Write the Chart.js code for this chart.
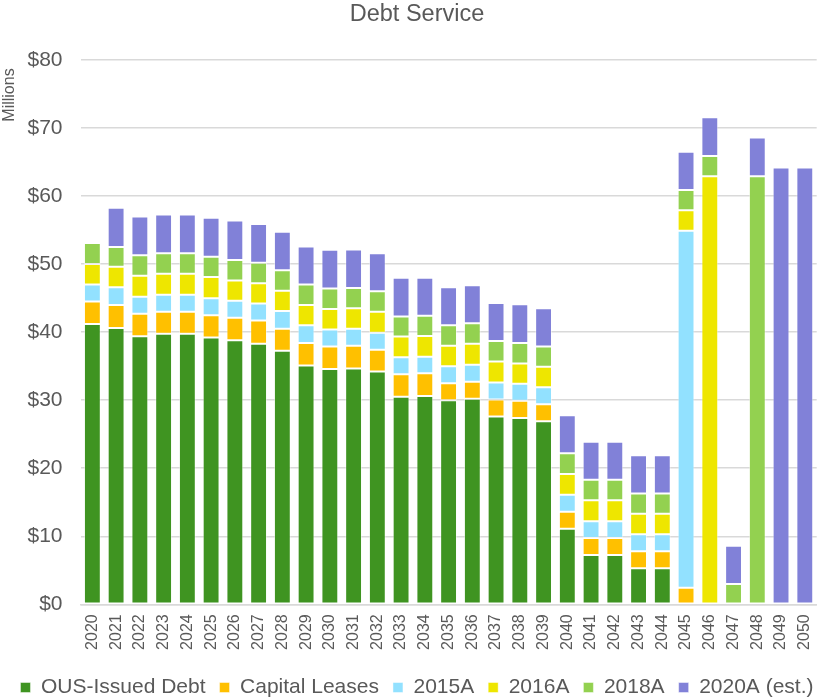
<!DOCTYPE html>
<html>
<head>
<meta charset="utf-8">
<script src="https://cdn.jsdelivr.net/npm/chart.js@4"></script>
<style>
html,body{margin:0;padding:0;background:#fff;overflow:hidden;width:831px;height:698px;}
#wrap{position:absolute;left:0;top:0;width:834px;height:708px;}
</style>
</head>
<body>
<div id="wrap"><canvas id="c" width="834" height="708" style="width:834px;height:708px"></canvas></div>
<script>
const years = ['2020','2021','2022','2023','2024','2025','2026','2027','2028','2029','2030','2031','2032','2033','2034','2035','2036','2037','2038','2039','2040','2041','2042','2043','2044','2045','2046','2047','2048','2049','2050'];
const ousDebt       = [41.2,40.6,39.4,39.75,39.75,39.2,38.8,38.3,37.25,35.1,34.6,34.65,34.2,30.5,30.6,30.0,30.2,27.6,27.4,26.9,11.1,7.25,7.25,5.3,5.3,0,0,0,0,0,0];
const capitalLeases = [3.3,3.4,3.3,3.25,3.25,3.3,3.3,3.4,3.25,3.3,3.3,3.35,3.2,3.3,3.35,2.5,2.5,2.5,2.5,2.5,2.5,2.5,2.5,2.5,2.5,2.45,0,0,0,0,0];
const s2015A        = [2.5,2.6,2.5,2.5,2.5,2.5,2.5,2.5,2.6,2.6,2.5,2.5,2.5,2.5,2.45,2.5,2.5,2.5,2.5,2.5,2.5,2.45,2.45,2.5,2.5,52.45,0,0,0,0,0];
const s2016A        = [3.0,3.0,3.1,3.1,3.1,3.1,3.0,3.0,3.0,3.0,3.0,3.0,3.1,3.05,3.05,3.0,3.1,3.1,3.0,3.0,3.05,3.1,3.1,3.0,3.0,3.0,62.9,0,0,0,0];
const s2018A        = [3.1,2.9,3.0,3.0,3.0,3.0,3.0,3.0,3.0,3.0,3.0,3.0,3.0,2.95,2.95,3.0,3.0,3.0,3.0,3.0,3.05,3.0,3.0,3.0,3.0,3.0,3.0,3.0,62.9,0,0];
const s2020A        = [0,5.8,5.7,5.7,5.7,5.7,5.8,5.7,5.65,5.6,5.7,5.65,5.6,5.7,5.6,5.6,5.6,5.6,5.7,5.6,5.6,5.6,5.6,5.6,5.6,5.6,5.7,5.6,5.7,64.2,64.2];
const seriesNames = ['OUS-Issued Debt','Capital Leases','2015A','2016A','2018A','2020A (est.)'];
const seriesColors = ['#3F9421','#FFC000','#92E1FF','#EEE600','#93D150','#8181D8'];
const seriesData = [ousDebt, capitalLeases, s2015A, s2016A, s2018A, s2020A];
const yTicks = [0,10,20,30,40,50,60,70,80];

const FONT = "'Liberation Sans', Arial, sans-serif";
const GREY = '#595959';

const millionsPlugin = {
  id: 'millions',
  afterDraw(chart) {
    const ctx = chart.ctx;
    ctx.save();
    ctx.font = "16px " + FONT;
    ctx.fillStyle = GREY;
    ctx.textAlign = 'center';
    ctx.textBaseline = 'middle';
    ctx.translate(9.5, 95);
    ctx.rotate(-Math.PI / 2);
    ctx.fillText('Millions', 0, 0);
    ctx.restore();
  }
};

new Chart(document.getElementById('c'), {
  type: 'bar',
  data: {
    labels: years,
    datasets: seriesData.map((d, i) => ({
      label: seriesNames[i],
      data: d,
      backgroundColor: seriesColors[i],
      borderColor: 'rgba(255,255,255,0.45)',
      borderWidth: 1,
      borderSkipped: false,
      barPercentage: 0.71,
      categoryPercentage: 1.0
    }))
  },
  options: {
    responsive: false,
    animation: false,
    devicePixelRatio: 1,
    layout: { padding: { left: 0, right: 0, top: 0, bottom: 0 } },
    plugins: {
      title: {
        display: true,
        text: 'Debt Service',
        color: GREY,
        font: { family: FONT, size: 23.5, weight: 'normal', lineHeight: 1.2 },
        padding: { top: 0, bottom: 31.8 }
      },
      legend: {
        position: 'bottom',
        labels: {
          color: GREY,
          font: { family: FONT, size: 21 },
          boxWidth: 10,
          boxHeight: 10,
          padding: 14
        }
      },
      tooltip: { enabled: false }
    },
    scales: {
      x: {
        stacked: true,
        grid: { display: false, drawTicks: false },
        border: { display: true, color: '#d9d9d9', width: 1.5 },
        ticks: {
          color: GREY,
          font: { family: FONT, size: 16 },
          minRotation: 90,
          maxRotation: 90,
          padding: 10,
          autoSkip: false
        },
        afterFit(scale) { scale.height = 58.7; }
      },
      y: {
        stacked: true,
        min: 0,
        max: 80,
        afterBuildTicks(scale) { scale.ticks = yTicks.map(v => ({ value: v })); },
        grid: { color: '#d9d9d9', lineWidth: 1.5, drawTicks: false },
        border: { display: false },
        ticks: {
          color: GREY,
          font: { family: FONT, size: 21 },
          padding: 18,
          callback: (v) => '$' + v
        },
        afterFit(scale) { scale.width = 80.5; }
      }
    }
  },
  plugins: [millionsPlugin]
});
</script>
</body>
</html>
